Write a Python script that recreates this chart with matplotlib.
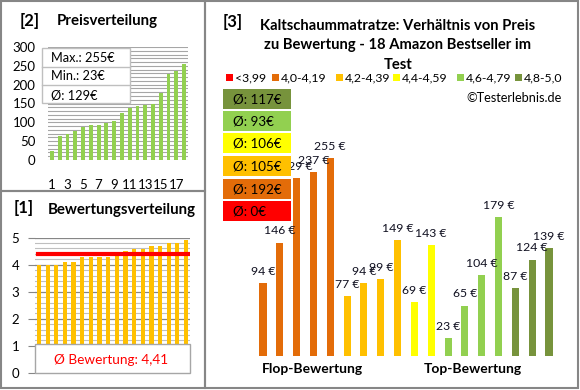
import matplotlib
matplotlib.use("Agg")
import matplotlib.pyplot as plt
from matplotlib.patches import Rectangle

plt.rcParams['font.family'] = ['Lato', 'DejaVu Sans']

# Daten: Preis und Bewertung der 18 Bestseller (nach Bewertung sortiert)
preise = [94, 146, 229, 237, 255, 77, 94, 99, 149, 69, 143, 23, 65, 104, 179, 87, 124, 139]
bewertungen = [4.0, 4.0, 4.0, 4.1, 4.1, 4.3, 4.3, 4.3, 4.3, 4.4, 4.5, 4.6, 4.6, 4.7, 4.7, 4.8, 4.8, 4.9]
klassen = ['<3,99', '4,0-4,19', '4,2-4,39', '4,4-4,59', '4,6-4,79', '4,8-5,0']
klassen_grenzen = [0, 4.0, 4.2, 4.4, 4.6, 4.8]
farben = ['#FF0000', '#E36C09', '#FFC000', '#FFFF00', '#92D050', '#77933C']

W, H = 580, 390
fig = plt.figure(figsize=(W / 100, H / 100), dpi=100)


def px_axes(x0, y0, x1, y1):
    return fig.add_axes([x0 / W, 1 - y1 / H, (x1 - x0) / W, (y1 - y0) / H])


def px_rect(x0, y0, x1, y1, **kw):
    r = Rectangle((x0 / W, 1 - y1 / H), (x1 - x0) / W, (y1 - y0) / H,
                  transform=fig.transFigure, **kw)
    fig.patches.append(r)
    return r


def px_text(x, y, s, **kw):
    return fig.text(x / W, 1 - y / H, s, **kw)


def runden(x):
    # wie Excel: .5 wird aufgerundet
    return int(x + 0.5)


def klasse_von(b):
    k = 0
    for i, g in enumerate(klassen_grenzen):
        if b >= g - 1e-9:
            k = i
    return k


# Rahmen der drei Bereiche
rahmen = dict(fill=False, edgecolor='#868686', lw=1.5, zorder=0.5)
px_rect(1, 1, 205, 191, **rahmen)
px_rect(1, 191, 205, 388, **rahmen)
px_rect(205, 1, 578, 388, **rahmen)

"""[2] Preisverteilung"""
preise_sortiert = sorted(preise)
n = len(preise_sortiert)
ax1 = px_axes(48, 47, 188, 160)
ax1.set_facecolor('none')
for v in range(0, 301, 10):
    ax1.axhline(v, color='#A6A6A6', lw=0.8, zorder=0)
ax1.bar(range(n), preise_sortiert, width=0.5, color='#92D050', zorder=2)
ax1.set_xlim(-0.5, n - 0.5)
ax1.set_ylim(0, 300)
ax1.set_yticks(range(0, 301, 50))
ax1.set_xticks(range(0, n, 2))
ax1.set_xticklabels([str(i + 1) for i in range(0, n, 2)])
ax1.tick_params(length=0, labelsize=9.5, colors='#000000')
ax1.tick_params(axis='x', pad=14)
ax1.tick_params(axis='y', pad=9)
for s in ax1.spines.values():
    s.set_visible(False)

px_text(20, 21, '[2]', fontsize=12, fontweight='bold', va='center')
px_text(57, 21, 'Preisverteilung', fontsize=10.8, fontweight='bold', va='center')

# Info-Kasten
px_rect(42, 48, 130, 103, facecolor='white', edgecolor='#BFBFBF', lw=1, zorder=2)
for yl in (67, 85):
    fig.add_artist(plt.Line2D([42 / W, 130 / W], [1 - yl / H, 1 - yl / H],
                              color='#BFBFBF', lw=1, transform=fig.transFigure, zorder=2.1))
mittel_preis = sum(preise) / len(preise)
info = ['Max.: %d€' % max(preise), 'Min.: %d€' % min(preise), 'Ø: %d€' % runden(mittel_preis)]
for i, t in enumerate(info):
    px_text(51, 58 + i * 18.5, t, fontsize=9.2, va='center', zorder=3)

"""[1] Bewertungsverteilung"""
ax2 = px_axes(34.7, 237.7, 190.3, 372.7)
ax2.set_facecolor('none')
for i in range(26):
    v = i * 0.2
    if i % 5 == 0:
        continue
    ax2.axhline(v, color='#BFBFBF', lw=0.8, zorder=0)
for v in range(6):
    ax2.axhline(v, color='#868686', lw=0.9, zorder=0.5)
ax2.bar(range(n), bewertungen, width=0.5, color='#FFC000', zorder=2)
mittel_bew = sum(bewertungen) / len(bewertungen)
ax2.plot([-0.1, n - 0.75], [mittel_bew, mittel_bew], color='#FF0000', lw=3, zorder=3)
ax2.set_xlim(-0.5, n - 0.5)
ax2.set_ylim(0, 5)
ax2.set_yticks(range(6))
ax2.set_xticks([])
ax2.tick_params(axis='y', length=5, color='#868686', labelsize=9.5, pad=6)
for s in ax2.spines.values():
    s.set_visible(False)

px_text(14, 208, '[1]', fontsize=12, fontweight='bold', va='center')
px_text(48, 210, 'Bewertungsverteilung', fontsize=10.8, fontweight='bold', va='center')

px_rect(35, 344, 190, 373, facecolor='white', edgecolor='#A6A6A6', lw=1, zorder=2)
px_text(111, 360, 'Ø Bewertung: ' + ('%.2f' % mittel_bew).replace('.', ','),
        fontsize=9.8, color='#FF0000', ha='center', va='center', zorder=3)

"""[3] Verhältnis von Preis zu Bewertung"""
ax3 = px_axes(254.6, 123, 557.4, 356)
ax3.set_facecolor('none')
bar_farben = [farben[klasse_von(b)] for b in bewertungen]
ax3.bar(range(n), preise, width=0.42, color=bar_farben, zorder=2)
for i, p in enumerate(preise):
    ax3.annotate('%d €' % p, (i, p), textcoords='offset points', xytext=(0, 4.5),
                 ha='center', va='bottom', fontsize=8.8, color='#101020')
ax3.set_xlim(-0.5, n - 0.5)
ax3.set_ylim(0, 300)
ax3.axis('off')

px_text(223, 22, '[3]', fontsize=12, fontweight='bold', va='center')
titel = ['Kaltschaummatratze: Verhältnis von Preis',
         'zu Bewertung - 18 Amazon Bestseller im', 'Test']
for i, t in enumerate(titel):
    px_text(398, 26 + i * 19.5, t, fontsize=10.6, fontweight='bold', ha='center', va='center')

# Legende
leg_x = [226, 272, 336, 393, 457, 515]
for x, k, f in zip(leg_x, klassen, farben):
    px_rect(x, 74, x + 7, 81, facecolor=f, edgecolor='none', zorder=2)
    px_text(x + 9, 78, k, fontsize=8.8, va='center')

px_text(562, 98, '©Testerlebnis.de', fontsize=9.2, ha='right', va='center')

# Durchschnittspreise je Klasse
box_y = [201, 179, 156, 133, 111, 89]
for k in range(len(klassen)):
    werte = [p for p, b in zip(preise, bewertungen) if klasse_von(b) == k]
    avg = runden(sum(werte) / len(werte)) if werte else 0
    y0 = box_y[k]
    px_rect(223, y0, 291, y0 + 20, facecolor=farben[k], edgecolor='none', zorder=4)
    px_text(233, y0 + 10.5, 'Ø: %d€' % avg, fontsize=9.6, va='center', zorder=5)

px_text(312, 369, 'Flop-Bewertung', fontsize=10, fontweight='bold', ha='center', va='center')
px_text(473, 369, 'Top-Bewertung', fontsize=10, fontweight='bold', ha='center', va='center')

fig.savefig('out.png', dpi=100, facecolor='white')
